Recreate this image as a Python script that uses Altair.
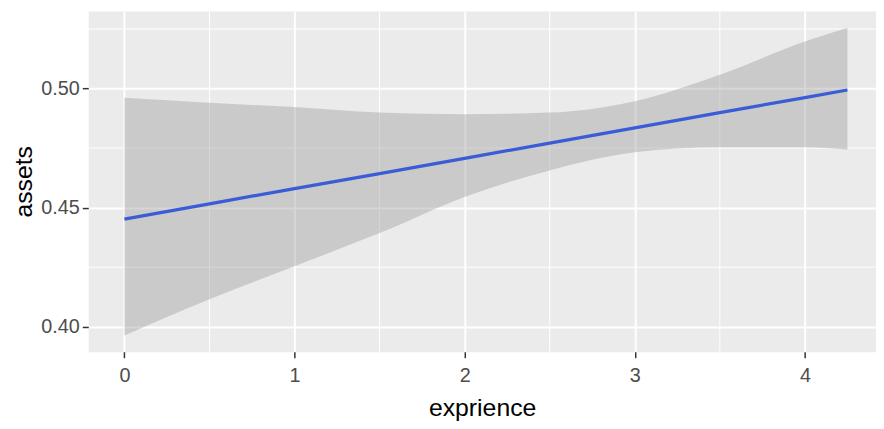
import altair as alt
import pandas as pd

# values
x_vals = [0, 0.5, 1, 1.5, 2, 2.5, 3, 3.5, 4, 4.25]
fit_vals = [0.4452, 0.4516, 0.4580, 0.4643, 0.4707, 0.4771, 0.4835, 0.4899, 0.4962, 0.4994]
lower_vals = [0.3963, 0.4115, 0.4254, 0.4393, 0.4545, 0.4656, 0.4732, 0.4753, 0.4753, 0.4743]
upper_vals = [0.4961, 0.4940, 0.4922, 0.4899, 0.4892, 0.4899, 0.4947, 0.5058, 0.5197, 0.5255]

x_ticks = [0, 1, 2, 3, 4]
y_ticks = [0.40, 0.45, 0.50]
x_minor = [0.5, 1.5, 2.5, 3.5]
y_minor = [0.425, 0.475, 0.525]

df = pd.DataFrame({"x": x_vals, "fit": fit_vals, "lower": lower_vals, "upper": upper_vals})

FONT = "Liberation Sans"
xscale = alt.Scale(domain=[-0.2125, 4.418], nice=False, zero=False)
yscale = alt.Scale(domain=[0.3895, 0.5326], nice=False, zero=False)

x_axis = alt.Axis(values=x_ticks, format="d", title="exprience", labelPadding=8, titlePadding=10)
y_axis = alt.Axis(values=y_ticks, format=".2f", title="assets", labelPadding=3, titlePadding=4)

minor_x = alt.Chart(pd.DataFrame({"mx": x_minor})).mark_rule(color="white", strokeWidth=1).encode(
    x=alt.X("mx:Q", scale=xscale, axis=x_axis)
)
minor_y = alt.Chart(pd.DataFrame({"my": y_minor})).mark_rule(color="white", strokeWidth=1).encode(
    y=alt.Y("my:Q", scale=yscale, axis=y_axis)
)

band = alt.Chart(df).mark_area(color="#999999", opacity=0.4, interpolate="monotone").encode(
    x=alt.X("x:Q", scale=xscale, axis=x_axis),
    y=alt.Y("lower:Q", scale=yscale, axis=y_axis),
    y2="upper:Q",
)

line = alt.Chart(df).mark_line(color="#3A5CD6", strokeWidth=3.2).encode(
    x=alt.X("x:Q", scale=xscale, axis=x_axis),
    y=alt.Y("fit:Q", scale=yscale, axis=y_axis),
)

chart = alt.layer(minor_x, minor_y, band, line).properties(
    width=795,
    height=344,
    autosize=alt.AutoSizeParams(type="none"),
    padding={"left": 81, "top": 1, "right": 0, "bottom": 70},
).configure_view(
    fill="#EBEBEB", stroke="transparent"
).configure_axis(
    grid=True, gridColor="white", gridWidth=2, domain=False,
    tickColor="#333333", tickSize=6, tickWidth=1.5,
    labelColor="#4D4D4D", labelFontSize=20, labelFont=FONT,
    titleFont=FONT, titleFontSize=25, titleColor="black", titleFontWeight="normal",
)

chart.save("out.html", embed_options={"renderer": "svg", "actions": False})
